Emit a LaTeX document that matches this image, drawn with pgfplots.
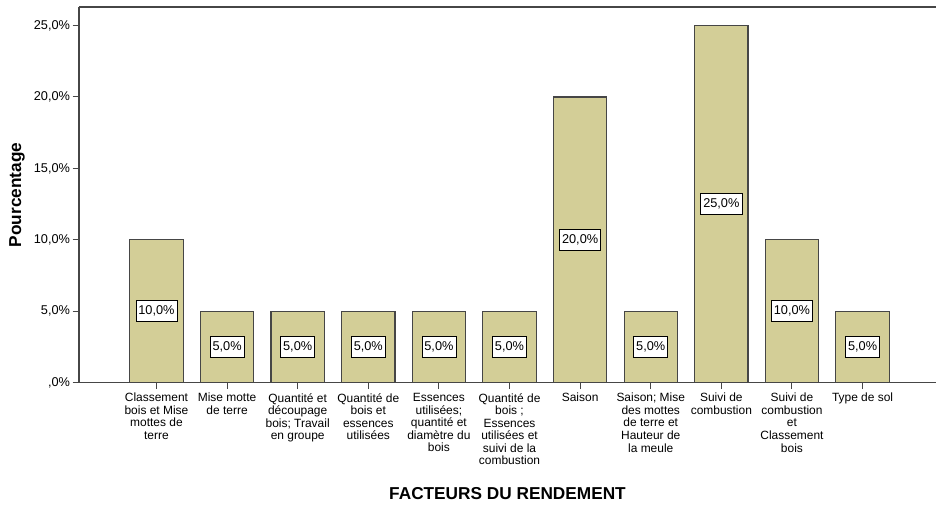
\documentclass[border=0pt]{standalone}
\usepackage{pgfplots}
\pgfplotsset{compat=1.18}
\usepackage{pgfplotstable}
\usepackage{fontspec}
\setmainfont{Liberation Sans}
\definecolor{barfill}{RGB}{211,206,151}
\definecolor{baredge}{RGB}{70,70,70}
\definecolor{axline}{RGB}{70,70,70}

\pgfplotstableread{
x y
0 10
1 5
2 5
3 5
4 5
5 5
6 20
7 5
8 25
9 10
10 5
}\datatable

\begin{document}
\begin{tikzpicture}
\path[use as bounding box] (-79bp,-123.3bp) rectangle (857bp,382.7bp);
\begin{axis}[
  at={(0,0)}, anchor=south west,
  scale only axis,
  width=857bp, height=375.7bp,
  xmin=-1.097, xmax=11.04,
  ymin=0, ymax=26.3,
  separate axis lines,
  axis x line*=bottom,
  axis y line*=left,
  axis line style={draw=axline, line width=1.1bp, -},
  tick style={draw=axline, line width=1bp},
  tick align=outside,
  major tick length=6.5bp,
  xtick pos=bottom, ytick pos=left,
  xtick=data,
  xticklabels={
    {Classement\\bois et Mise\\mottes de\\terre},
    {Mise motte\\de terre},
    {Quantité et\\découpage\\bois; Travail\\en groupe},
    {Quantité de\\bois et\\essences\\utilisées},
    {Essences\\utilisées;\\quantité et\\diamètre du\\bois},
    {Quantité de\\bois ;\\Essences\\utilisées et\\suivi de la\\combustion},
    {Saison},
    {Saison; Mise\\des mottes\\de terre et\\Hauteur de\\la meule},
    {Suivi de\\combustion},
    {Suivi de\\combustion\\et\\Classement\\bois},
    {Type de sol}
  },
  xticklabel style={align=center, font=\fontsize{12}{12.6}\selectfont, anchor=north, yshift=-0.5bp},
  ytick={0,5,10,15,20,25},
  yticklabels={{,0\%},{5,0\%},{10,0\%},{15,0\%},{20,0\%},{25,0\%}},
  yticklabel style={font=\fontsize{12.8}{13}\selectfont, xshift=1bp},
  /pgf/number format/assume math mode=true,
  ylabel={Pourcentage},
  ylabel style={at={(axis description cs:-0.0723,0.5)}, anchor=center, rotate=0, font=\bfseries\fontsize{17.3}{19}\selectfont},
  xlabel={FACTEURS DU RENDEMENT},
  xlabel style={at={(axis description cs:0.5,-0.295)}, anchor=center, font=\bfseries\fontsize{17.3}{19}\selectfont},
  clip=false,
]
\addplot[ybar, bar width=0.755, fill=barfill, draw=baredge, line width=1.1bp] table[x=x, y=y] {\datatable};
\addplot[draw=none, mark=none, point meta=\thisrow{y},
  nodes near coords={\pgfmathprintnumber[fixed, fixed zerofill, precision=1, use comma]{\pgfplotspointmeta}\%},
  every node near coord/.append style={anchor=center, fill=white, draw=black, line width=0.7bp,
    inner xsep=2.5bp, inner ysep=0bp, minimum height=21bp, font=\fontsize{12.8}{13}\selectfont}]
  table[x=x, y expr=\thisrow{y}/2] {\datatable};
\draw[axline, line width=1.1bp] (rel axis cs:0,1) -- (rel axis cs:1,1);
\end{axis}
\end{tikzpicture}
\end{document}
